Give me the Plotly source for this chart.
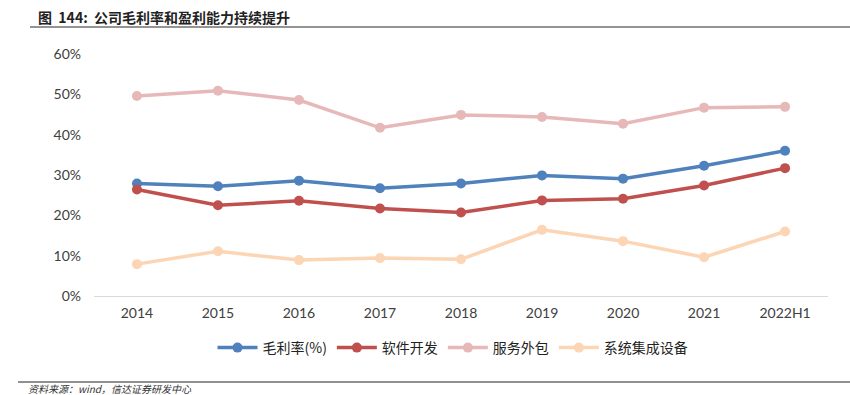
import plotly.graph_objects as go

categories = ["2014", "2015", "2016", "2017", "2018", "2019", "2020", "2021", "2022H1"]
gross_margin = [27.9, 27.2, 28.6, 26.7, 27.9, 29.9, 29.1, 32.3, 36.0]
software_dev = [26.4, 22.5, 23.6, 21.7, 20.7, 23.7, 24.1, 27.4, 31.7]
service_outsourcing = [49.6, 50.9, 48.6, 41.7, 44.9, 44.4, 42.7, 46.7, 46.9]
system_integration = [7.9, 11.1, 8.9, 9.4, 9.1, 16.4, 13.6, 9.6, 16.0]
series_names = ["毛利率(%)", "软件开发", "服务外包", "系统集成设备"]
y_ticks = [0, 10, 20, 30, 40, 50, 60]
y_tick_labels = ["0%", "10%", "20%", "30%", "40%", "50%", "60%"]

colors = ["#4F81BD", "#C0504D", "#E6B9B8", "#FCD5B5"]
series = [gross_margin, software_dev, service_outsourcing, system_integration]

fig = go.Figure()
for name, vals, c in zip(series_names, series, colors):
    fig.add_trace(go.Scatter(
        x=categories, y=vals, name=name, mode="lines+markers",
        line=dict(color=c, width=3.5), marker=dict(color=c, size=10),
    ))

L, R, T, B = 94, 828, 54, 296
W, H = 850, 395

def px(x):
    return (x - L) / (R - L)

def py(y):
    return (B - y) / (B - T)

fig.update_layout(
    width=W, height=H,
    margin=dict(l=L, r=W - R, t=T, b=H - B, autoexpand=False),
    plot_bgcolor="white", paper_bgcolor="white",
    font=dict(family="Lato, Noto Sans CJK SC, sans-serif", size=14, color="#404040"),
    xaxis=dict(
        type="category", showgrid=False, showline=True, linecolor="#D9D9D9",
        linewidth=1, ticks="", tickfont=dict(size=14, color="#404040"),
        ticklabelstandoff=4,
    ),
    yaxis=dict(
        range=[0, 60], tickvals=y_ticks, ticktext=y_tick_labels,
        showgrid=False, showline=False, zeroline=False, ticks="",
        tickfont=dict(size=14, color="#404040"), ticklabelstandoff=12,
    ),
    legend=dict(
        orientation="h", x=px(453), xanchor="center", y=py(348), yanchor="middle",
        font=dict(family="Noto Sans CJK SC, sans-serif", size=14, color="#222222"),
        itemwidth=40, tracegroupgap=0,
    ),
    showlegend=True,
)

fig.add_annotation(
    xref="paper", yref="paper", x=px(36), y=py(17), xanchor="left", yanchor="middle",
    text="<b>图  144:  公司毛利率和盈利能力持续提升</b>", showarrow=False,
    font=dict(family="Noto Sans CJK SC, sans-serif", size=14, color="#222222"),
)
fig.add_shape(type="line", xref="paper", yref="paper",
              x0=px(30), x1=px(850), y0=py(27), y1=py(27),
              line=dict(color="#707070", width=1.5))
fig.add_shape(type="line", xref="paper", yref="paper",
              x0=px(18), x1=px(850), y0=py(382), y1=py(382),
              line=dict(color="#222222", width=1))
fig.add_annotation(
    xref="paper", yref="paper", x=px(26), y=py(388), xanchor="left", yanchor="middle",
    text="<i>资料来源：wind，信达证券研发中心</i>", showarrow=False,
    font=dict(family="Noto Sans CJK SC, sans-serif", size=10, color="#333333"),
)

fig.write_html(
    "out.html",
    config={"displayModeBar": False},
    post_script="document.body.style.margin='0';document.body.style.padding='0';",
)
